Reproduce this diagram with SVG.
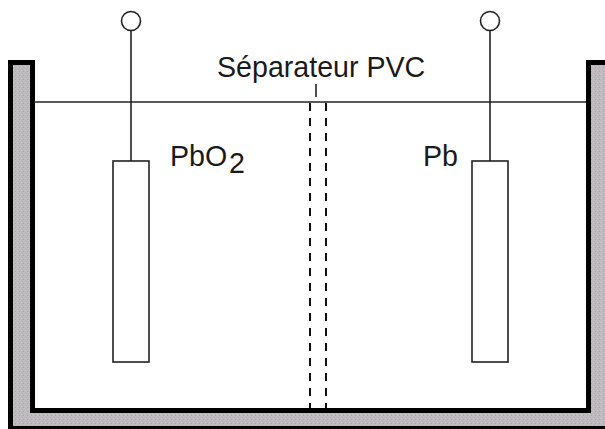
<svg xmlns="http://www.w3.org/2000/svg" width="605" height="429" viewBox="0 0 605 429">
<style>
text{font-family:"Liberation Sans",Arial,sans-serif;font-size:28.6px;fill:#1a1a1a}
.l{stroke:#222;stroke-width:1.6;fill:none}
.e{stroke:#222;stroke-width:1.6;fill:#fff}
.d{stroke:#111;stroke-width:2;stroke-dasharray:8 7;fill:none}
</style>
<defs>
<pattern id="dither" width="4" height="4" patternUnits="userSpaceOnUse">
<rect width="4" height="4" fill="#bcbcbc"/>
<rect x="0" y="0" width="1" height="1" fill="#c9bcc9"/>
<rect x="2" y="1" width="1" height="1" fill="#a9b9a9"/>
<rect x="1" y="2" width="1" height="1" fill="#d0c6d0"/>
<rect x="3" y="3" width="1" height="1" fill="#a4b0a4"/>
</pattern>
</defs>
<rect width="605" height="429" fill="#fff"/>
<g id="bac">
<path d="M8 60H35V408H586V60H605V429H8Z" fill="#000"/>
<path d="M13 65H30V413H591V65H605V426H13Z" fill="url(#dither)"/>
</g>
<g id="connecteurs">
<path class="l" d="M34 102H586"/>
<path class="l" d="M131 31V161"/>
<path class="l" d="M490 31V161"/>
<path class="l" d="M316 84V97" stroke-width="2"/>
<path class="d" d="M310 103V408"/>
<path class="d" d="M326 103V408"/>
</g>
<g id="borne-gauche"><circle class="e" cx="131" cy="21" r="9.5"/></g>
<g id="borne-droite"><circle class="e" cx="490" cy="21" r="9.5"/></g>
<g id="electrode-pbo2"><rect class="e" x="113" y="161" width="36" height="201"/>
<text x="170" y="166">PbO</text><text x="229" y="173">2</text></g>
<g id="electrode-pb"><rect class="e" x="472" y="161" width="36" height="201"/>
<text x="423" y="166">Pb</text></g>
<g id="separateur"><text x="217" y="77">Séparateur PVC</text></g>
</svg>
